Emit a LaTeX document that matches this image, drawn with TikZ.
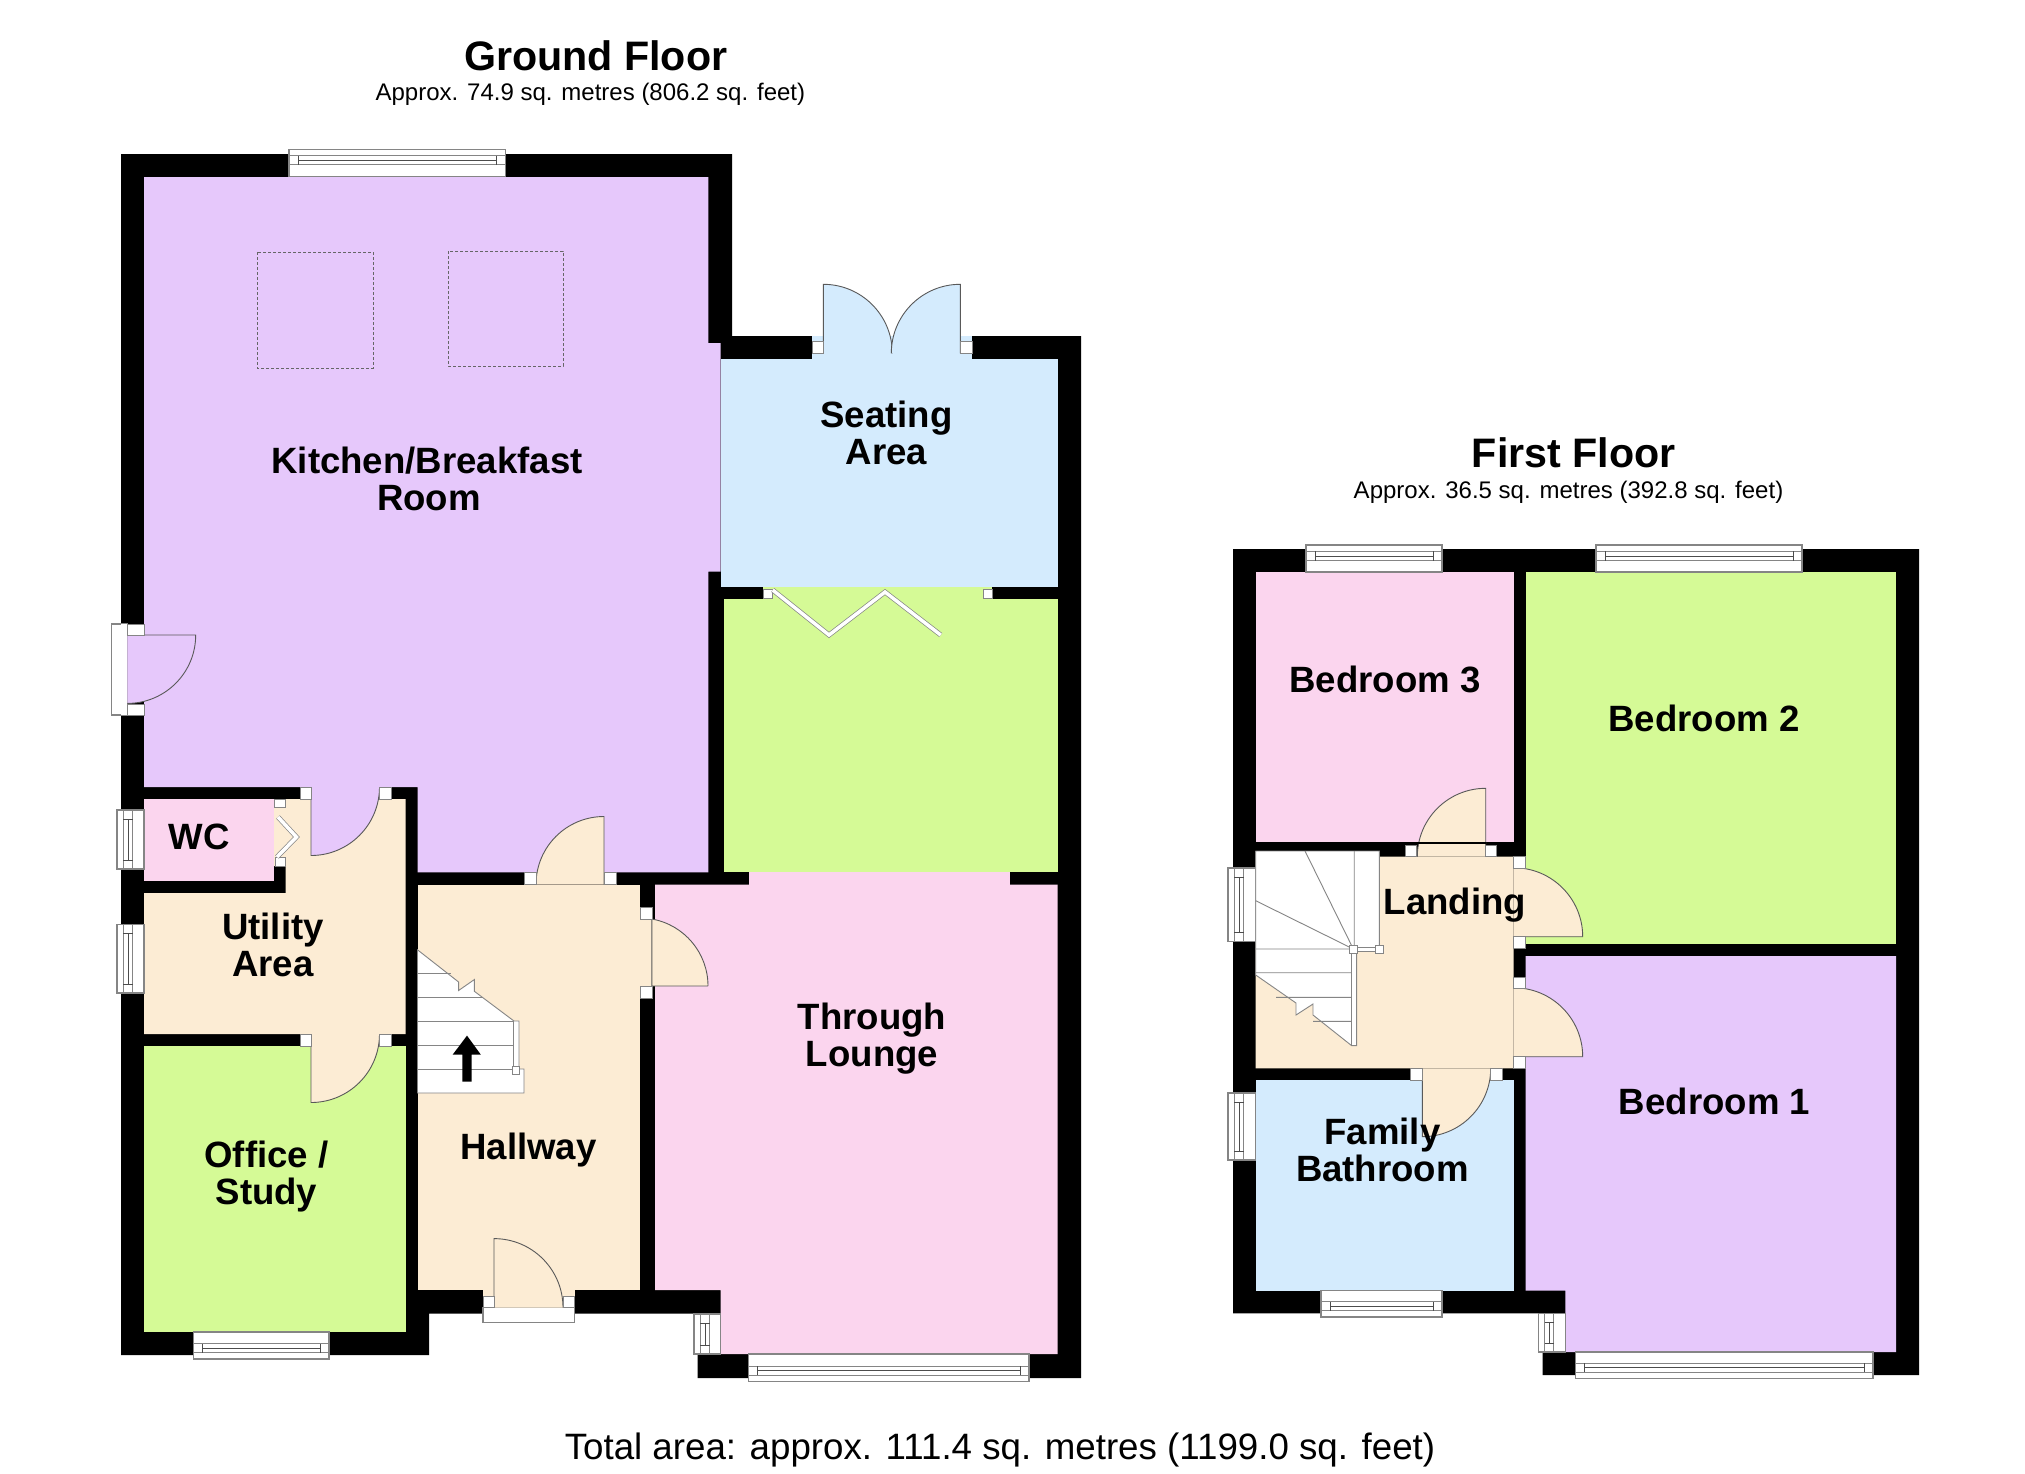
\documentclass[tikz,border=0pt]{standalone}
\usepackage{fontspec}
\setmainfont{Liberation Sans}
\definecolor{roomlilac}{HTML}{E6C8FB}
\definecolor{roomblue}{HTML}{D4EBFD}
\definecolor{roomgreen}{HTML}{D5FA96}
\definecolor{roompink}{HTML}{FBD5EE}
\definecolor{roomcream}{HTML}{FCECD4}
\definecolor{edgegrey}{HTML}{858585}
\tikzset{
  roomlabel/.style={align=center, inner sep=0pt, font=\fontsize{36.6}{37}\selectfont\bfseries},
  floortitle/.style={inner sep=0pt, font=\fontsize{41.2}{42}\selectfont\bfseries},
  floorarea/.style={inner sep=0pt, font=\fontsize{24}{25}\selectfont},
  totalarea/.style={inner sep=0pt, font=\fontsize{36.7}{37}\selectfont},
  jamb/.style={draw=edgegrey, fill=white, line width=0.7pt},
  frameline/.style={draw=edgegrey, line width=1.1pt},
  doorline/.style={draw=black!65, line width=0.9pt},
  treadline/.style={draw=edgegrey, line width=0.9pt},
  rooflight/.style={draw=black!60, line width=0.5pt, densely dashed},
}
% window across a horizontal wall: x from, x to, inner y, outer y
\newcommand{\winacross}[4]{
  \pgfmathsetmacro{\ws}{#4>#3 ? 1 : -1}
  \filldraw[jamb, frameline] (#1,#3) rectangle (#2,#4);
  \draw[frameline, line width=0.7pt] (#1,#4-\ws*6.3) -- (#2,#4-\ws*6.3) (#1,#4-\ws*15.5) -- (#2,#4-\ws*15.5);
  \draw[black!70, line width=0.8pt] (#1+9,#4-\ws*6.3) -- (#1+9,#4-\ws*15.5) (#2-9,#4-\ws*6.3) -- (#2-9,#4-\ws*15.5)
    (#1+9,#4-\ws*11) -- (#2-9,#4-\ws*11);
}
% window along a vertical wall: y from, y to, inner x, outer x
\newcommand{\winalong}[4]{
  \pgfmathsetmacro{\ws}{#4>#3 ? 1 : -1}
  \filldraw[jamb, frameline] (#3,#1) rectangle (#4,#2);
  \draw[frameline, line width=0.7pt] (#4-\ws*6.3,#1) -- (#4-\ws*6.3,#2) (#4-\ws*15.5,#1) -- (#4-\ws*15.5,#2);
  \draw[black!70, line width=0.8pt] (#4-\ws*6.3,#1+9) -- (#4-\ws*15.5,#1+9) (#4-\ws*6.3,#2-9) -- (#4-\ws*15.5,#2-9)
    (#4-\ws*11,#1+9) -- (#4-\ws*11,#2-9);
}
\begin{document}
\begin{tikzpicture}[x=1pt, y=-1pt]
  \useasboundingbox (0,0) rectangle (2025,1473);
  % walls, ground floor then first floor
  \fill[black] (121,154) -- (732,154) -- (732,336) -- (1081,336) -- (1081,1378) -- (697.5,1378) -- (697.5,1354)
    -- (720.5,1354) -- (720.5,1313.5) -- (429,1313.5) -- (429,1355) -- (121,1355) -- cycle;
  \fill[black] (1233,549) -- (1919,549) -- (1919,1375) -- (1542.7,1375) -- (1542.7,1352) -- (1565.3,1352)
    -- (1565.3,1313.3) -- (1233,1313.3) -- cycle;
  % floors
  \fill[roomlilac] (144,177) -- (708.3,177) -- (708.3,343) -- (720.7,343) -- (720.7,571.7) -- (708.3,571.7)
    -- (708.3,872.3) -- (417.5,872.3) -- (417.5,787) -- (144,787) -- cycle;
  \fill[roomblue] (720.7,359.3) rectangle (1057.7,586.7);
  \fill[roomblue] (811.7,336) rectangle (972,359.3);
  \fill[roomgreen] (724.3,599) rectangle (1057.7,872.3);
  \fill[roomgreen] (763.3,586.7) rectangle (992,599);
  \fill[roompink] (655,884.5) -- (1057.7,884.5) -- (1057.7,1354) -- (720.5,1354) -- (720.5,1290) -- (655,1290) -- cycle;
  \fill[roompink] (749.3,872.3) rectangle (1010,884.5);
  \fill[roompink] (144,799) rectangle (274,881);
  \fill[roomcream] (274,799) -- (405.6,799) -- (405.6,1034) -- (144,1034) -- (144,893) -- (285.5,893) -- (285.5,866) -- (274,866) -- cycle;
  \fill[roomgreen] (144,1046) rectangle (405.6,1332);
  \fill[roomcream] (417.5,884.5) rectangle (640,1290);
  \fill[roomcream] (483,1290) rectangle (574.5,1307.6);
  \fill[roompink] (1255.7,572) rectangle (1513.7,842);
  \fill[roomgreen] (1525.7,572) rectangle (1896,944);
  \fill[roomlilac] (1525.7,956) -- (1896,956) -- (1896,1352) -- (1565.3,1352) -- (1565.3,1290.7) -- (1525.7,1290.7) -- cycle;
  \fill[roomblue] (1255.7,1080.3) rectangle (1513.7,1290.7);
  \fill[roomcream] (1255.7,851) -- (1379.3,851) -- (1379.3,856.7) -- (1513.7,856.7) -- (1513.7,1068.3) -- (1255.7,1068.3) -- cycle;
  % skylights
  \draw[rooflight] (257,252) rectangle (373,368);
  \draw[rooflight] (448,251) rectangle (563,366);
  % back door frame and front door sill
  \filldraw[jamb, frameline] (111.7,624) rectangle (127.3,715);
  \fill[white] (121,624) rectangle (127.3,715);
  \filldraw[jamb, frameline] (483,1307.6) rectangle (574.5,1322.7);
  % door swings
  \foreach \cx/\cy/\sa/\ea/\rad/\col in {
      311/787/-90/0/68.5/roomlilac, 311/1034/-90/0/68.5/roomcream,
      604/884.5/90/180/68/roomcream, 494/1307.6/90/0/69/roomcream,
      823.3/353.3/90/0/69/roomblue, 960.3/353.3/90/180/69/roomblue,
      127.3/635/0/-90/68.4/roomlilac, 1485.7/856.7/90/180/68.4/roomcream,
      1513.7/936.7/0/90/69/roomcream, 1513.7/1056.7/0/90/69/roomcream,
      1422.3/1068.3/-90/0/68.4/roomcream} {
    \fill[\col] (\cx,\cy) -- ++(\sa:\rad pt) arc[start angle=\sa, end angle=\ea, radius=\rad pt] -- cycle;
    \draw[doorline] (\cx,\cy) -- ++(\sa:\rad pt) arc[start angle=\sa, end angle=\ea, radius=\rad pt];
  }
  % lounge door hangs off the thin skin of the hall wall
  \fill[roomcream] (640,986) -- (651.8,986) -- (651.8,919) arc[start angle=80, end angle=0, radius=68pt] -- cycle;
  \fill[roomcream] (640,919) rectangle (652,986);
  \draw[doorline] (708,986) -- (651.8,986) -- (651.8,919) arc[start angle=80, end angle=0, radius=68pt];
  % wall skin left over the bedroom 3 door
  \fill[black] (1416.7,842) rectangle (1485.7,844);
  % jambs
  \foreach \xa/\ya/\xb/\yb in {
      300/787/311/799, 379/787/391/799, 274/799/285.5/807.5, 275/857/285.5/866,
      300/1034/311/1046, 379/1034/391/1046, 524/872/536/884.5, 604/872/616/884.5,
      640/907/652/919, 640/986/652/998, 483/1296.6/494/1307.6, 563/1296.6/574.5/1307.6,
      812/341.7/823.3/353, 960.3/341.7/972/353, 763.3/589/772.7/598, 983/589/992/598,
      127.3/624/144/635, 127.3/704/144/715,
      1405/845/1416.7/856.7, 1485.7/845/1496.7/856.7, 1513.7/856.7/1525.7/868.3,
      1513.7/936.7/1525.7/948.3, 1513.7/977/1525.7/988.7, 1513.7/1056.7/1525.7/1068.3,
      1410.7/1068.3/1422.3/1080.3, 1490.7/1068.3/1502/1080.3} {
    \filldraw[jamb] (\xa,\ya) rectangle (\xb,\yb);
  }
  % windows
  \winacross{289}{505.7}{176.7}{149.3}
  \winacross{193.7}{329}{1332}{1359}
  \winacross{748.4}{1029}{1354}{1381.7}
  \winacross{1306}{1442}{572}{545}
  \winacross{1596}{1802}{572}{545}
  \winacross{1321}{1442}{1290.7}{1317}
  \winacross{1575.3}{1873}{1352}{1378.7}
  \winalong{810}{869}{144}{117}
  \winalong{924.5}{993}{144}{117}
  \winalong{1314}{1354}{720.5}{694}
  \winalong{868}{941.7}{1255.7}{1228}
  \winalong{1093}{1160}{1255.7}{1228}
  \winalong{1313.3}{1352}{1565.3}{1538.3}
  % folding doors
  \draw[edgegrey, line width=0.7pt, double=white, double distance=3.5pt, miter limit=10]
    (772.7,590) -- (829,635) -- (885,592) -- (940.7,635);
  \draw[edgegrey, line width=0.7pt, double=white, double distance=3.5pt]
    (278,817) -- (296.5,837) -- (277,857);
  % ground floor stairs
  \filldraw[treadline, fill=white] (417.5,949.8) -- (458.6,982) -- (458.6,990.5) -- (474.4,979.5) -- (474.4,991.3)
    -- (514,1021) -- (519,1021) -- (519,1069) -- (524,1069) -- (524,1093) -- (417.5,1093) -- cycle;
  \foreach \yy/\xx in {973.5/451, 997/483, 1021/514, 1045.5/513, 1069/513} {
    \draw[treadline] (417.5,\yy) -- (\xx,\yy);
  }
  \draw[treadline] (513.5,1021) -- (513.5,1069);
  \filldraw[jamb] (512.5,1066) rectangle (519.5,1074);
  \fill[black] (467,1035.6) -- (480.8,1054.6) -- (471.7,1054.6) -- (471.7,1081.5) -- (462.4,1081.5) -- (462.4,1054.6) -- (452.7,1054.6) -- cycle;
  % first floor stairs
  \filldraw[treadline, fill=white] (1255.7,851) -- (1379.3,851) -- (1379.3,949) -- (1356.7,949) -- (1356.7,1045.7) -- (1351.7,1045.7)
    -- (1313,1015) -- (1313,1004) -- (1296,1015) -- (1296,1003) -- (1255.7,975) -- cycle;
  \draw[treadline] (1353.3,949) -- (1305,851) (1353.3,949) -- (1255.7,900.7)
    (1255.7,949) -- (1351.7,949) (1255.7,972.7) -- (1351.7,972.7) (1276,997.3) -- (1351.7,997.3) (1313,1021.3) -- (1351.7,1021.3)
    (1354.2,851) -- (1354.2,949);
  \draw[treadline] (1351.7,949) rectangle (1356.7,1045.7);
  \filldraw[jamb] (1356.7,947) rectangle (1376,951.5);
  \filldraw[jamb] (1349.8,945.5) rectangle (1357,953);
  \filldraw[jamb] (1375.3,945.3) rectangle (1383.3,953.3);
  % labels
  \node[floortitle] (groundtitle) at (595.6,56) {Ground Floor};
  \node[floorarea] (groundarea) at (590.4,94.5) {Approx. 74.9 sq. metres (806.2 sq. feet)};
  \node[floortitle] (firsttitle) at (1573.7,452.5) {First Floor};
  \node[floorarea] (firstarea) at (1568.5,492) {Approx. 36.5 sq. metres (392.8 sq. feet)};
  \node[totalarea] (total) at (1000,1450) {Total area: approx. 111.4 sq. metres (1199.0 sq. feet)};
  \node[roomlabel] (kitchen) at (427,479) {Kitchen/Breakfast\\\hspace*{4pt}Room};
  \node[roomlabel] (seating) at (886.5,433) {Seating\\Area};
  \node[roomlabel] (utility) at (273,945) {Utility\\Area};
  \node[roomlabel] (wc) at (199,837) {WC};
  \node[roomlabel] (hallway) at (528.4,1150) {Hallway};
  \node[roomlabel] (office) at (266.5,1177) {Office /\\Study};
  \node[roomlabel] (lounge) at (872,1039) {Through\\Lounge};
  \node[roomlabel] (bedthree) at (1385,679) {Bedroom 3};
  \node[roomlabel] (bedtwo) at (1704,718.5) {Bedroom 2};
  \node[roomlabel] (landing) at (1455,905) {Landing};
  \node[roomlabel] (bathroom) at (1382.4,1150) {Family\\Bathroom};
  \node[roomlabel] (bedone) at (1714.5,1101) {Bedroom 1};
\end{tikzpicture}
\end{document}
